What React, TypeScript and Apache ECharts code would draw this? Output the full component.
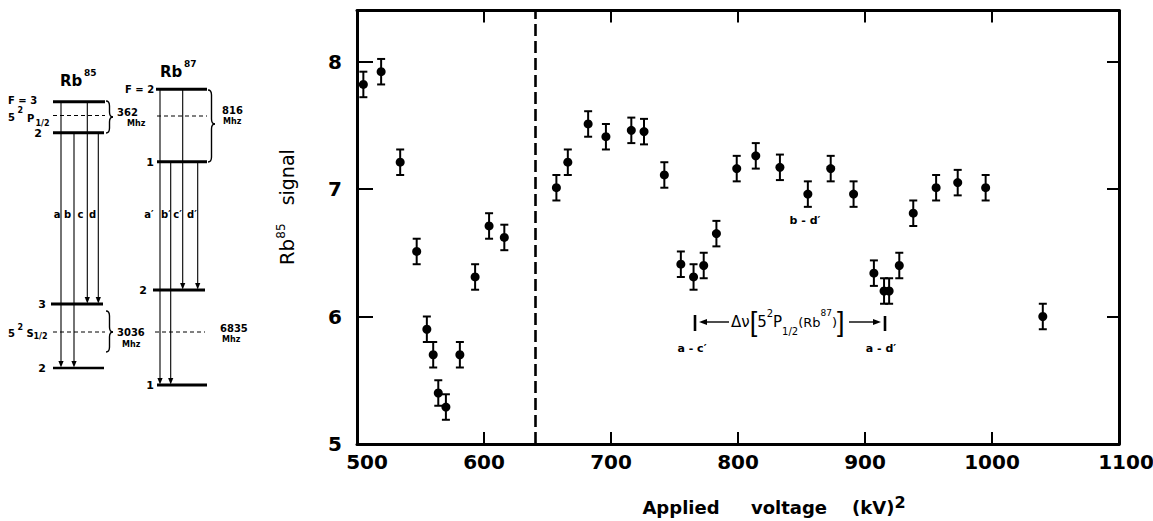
import React, { useEffect, useRef } from "react";
import * as echarts from "echarts";

// ---- data ----
const voltageSq = [505, 519, 534, 547, 555, 560, 564, 570, 581, 593, 604, 616, 657, 666, 682, 696, 716, 726, 742, 755, 765, 773, 783, 799, 814, 833, 855, 873, 891, 907, 915, 919, 927, 938, 956, 973, 995, 1040];
const signal = [7.82, 7.92, 7.21, 6.51, 5.9, 5.7, 5.4, 5.29, 5.7, 6.31, 6.71, 6.62, 7.01, 7.21, 7.51, 7.41, 7.46, 7.45, 7.11, 6.41, 6.31, 6.4, 6.65, 7.16, 7.26, 7.17, 6.96, 7.16, 6.96, 6.34, 6.2, 6.2, 6.4, 6.81, 7.01, 7.05, 7.01, 6.0];
const errorBar = [0.1, 0.1, 0.1, 0.1, 0.1, 0.1, 0.1, 0.1, 0.1, 0.1, 0.1, 0.1, 0.1, 0.1, 0.1, 0.1, 0.1, 0.1, 0.1, 0.1, 0.1, 0.1, 0.1, 0.1, 0.1, 0.1, 0.1, 0.1, 0.1, 0.1, 0.1, 0.1, 0.1, 0.1, 0.1, 0.1, 0.1, 0.1];
const xTickValues = [600, 700, 800, 900, 1000];
const xLabelValues = [500, 600, 700, 800, 900, 1000, 1100];
const yTickValues = [6, 7, 8];
const yLabelValues = [5, 6, 7, 8];
const dividerX = 640;

const FONT = "DejaVu Sans";
const INK = "#000";

type El = any;

const ln = (x1: number, y1: number, x2: number, y2: number, w = 1, dash?: number[]): El => ({
  type: "line",
  silent: true,
  shape: { x1, y1, x2, y2 },
  style: { stroke: INK, lineWidth: w, lineDash: dash },
});

const bz = (x1: number, y1: number, x2: number, y2: number, cpx1: number, cpy1: number, w = 1.4): El => ({
  type: "bezierCurve",
  silent: true,
  shape: { x1, y1, x2, y2, cpx1, cpy1 },
  style: { stroke: INK, fill: null, lineWidth: w },
});

const arrowDown = (x: number, y: number): El => ({
  type: "polygon",
  silent: true,
  shape: { points: [[x - 2.6, y - 7], [x + 2.6, y - 7], [x, y - 0.5]] },
  style: { fill: INK },
});

const txt = (x: number, y: number, text: string, size = 10, weight: any = "bold", align = "center"): El => ({
  type: "text",
  silent: true,
  x,
  y,
  style: { text, fill: INK, fontSize: size, fontWeight: weight, fontFamily: FONT, align, verticalAlign: "middle" },
});

const brace = (x: number, y1: number, y2: number, ym: number, w: number): El[] => {
  const r = Math.min(5, (ym - y1) / 3, (y2 - ym) / 3);
  const mx = x + w * 0.5;
  return [
    bz(x, y1, mx, y1 + r, mx, y1),
    ln(mx, y1 + r, mx, ym - r, 1.4),
    bz(mx, ym - r, x + w, ym, mx, ym),
    bz(x + w, ym, mx, ym + r, mx, ym),
    ln(mx, ym + r, mx, y2 - r, 1.4),
    bz(mx, y2 - r, x, y2, mx, y2),
  ];
};

const transition = (x: number, yStart: number, yEnd: number): El[] => [
  ln(x, yStart, x, yEnd - 6, 1.1),
  arrowDown(x, yEnd),
];

function buildDiagram(): El[] {
  const els: El[] = [];
  const dash = [4, 3];
  // ---- Rb85 ----
  els.push(txt(60, 81, "Rb", 15, "bold", "left"));
  els.push(txt(84, 73, "85", 9, "bold", "left"));
  els.push(ln(53, 101.7, 105, 101.7, 3));
  els.push(ln(53, 115.5, 105, 115.5, 1, dash));
  els.push(ln(53, 132.7, 104, 132.7, 3));
  els.push(ln(51, 304, 103, 304, 3));
  els.push(ln(53, 332, 105, 332, 1, dash));
  els.push(ln(53, 368, 104, 368, 2.6));
  els.push(...transition(61, 101.7, 368));
  els.push(...transition(74, 132.7, 368));
  els.push(...transition(87.3, 101.7, 304));
  els.push(...transition(98.3, 132.7, 304));
  els.push(txt(57, 214, "a"), txt(67.5, 214, "b"), txt(80.5, 214, "c"), txt(92.5, 214, "d"));
  els.push(txt(8, 100, "F = 3", 10, "bold", "left"));
  els.push(txt(8, 117, "5", 10, "bold", "left"));
  els.push(txt(17.5, 110.5, "2", 8, "bold", "left"));
  els.push(txt(27, 118, "P", 10, "bold", "left"));
  els.push(txt(35.5, 123, "1/2", 8, "bold", "left"));
  els.push(txt(38, 133, "2", 11));
  els.push(txt(42, 304, "3", 11));
  els.push(txt(8, 333, "5", 10, "bold", "left"));
  els.push(txt(17.5, 327.5, "2", 8, "bold", "left"));
  els.push(txt(26.5, 333, "S", 10, "bold", "left"));
  els.push(txt(33.5, 336, "1/2", 8, "bold", "left"));
  els.push(txt(42, 368, "2", 11));
  els.push(...brace(106, 101, 133, 117, 7));
  els.push(txt(117, 112.5, "362", 10, "bold", "left"));
  els.push(txt(127, 123, "Mhz", 8, "bold", "left"));
  els.push(...brace(106, 311, 352, 332, 7));
  els.push(txt(117, 332, "3036", 10, "bold", "left"));
  els.push(txt(122, 344, "Mhz", 8, "bold", "left"));

  // ---- Rb87 ----
  els.push(txt(160, 72, "Rb", 15, "bold", "left"));
  els.push(txt(184, 64, "87", 9, "bold", "left"));
  els.push(ln(156, 89.3, 207, 89.3, 3));
  els.push(ln(157, 116, 207, 116, 1, dash));
  els.push(ln(157, 161.7, 207, 161.7, 3));
  els.push(ln(153, 290, 205, 290, 3));
  els.push(ln(155, 332, 205, 332, 1, dash));
  els.push(ln(157, 385, 207, 385, 3));
  els.push(...transition(160, 89.3, 385));
  els.push(...transition(170.7, 161.7, 385));
  els.push(...transition(182.7, 89.3, 290));
  els.push(...transition(197.7, 161.7, 290));
  els.push(txt(149, 214, "a′"), txt(166, 214, "b′"), txt(177.5, 214, "c′"), txt(192, 214, "d′"));
  els.push(txt(125, 89, "F = 2", 10, "bold", "left"));
  els.push(txt(150, 162, "1", 11));
  els.push(txt(143, 290, "2", 11));
  els.push(txt(150, 385, "1", 11));
  els.push(...brace(208, 90, 162, 124, 7));
  els.push(txt(222, 110, "816", 10, "bold", "left"));
  els.push(txt(223, 121, "Mhz", 8, "bold", "left"));
  els.push(txt(220, 328, "6835", 10, "bold", "left"));
  els.push(txt(222, 339, "Mhz", 8, "bold", "left"));
  return els;
}

function buildAnnotations(): El[] {
  const els: El[] = [];
  els.push(txt(805, 220, "b - d′", 11));
  els.push(txt(692, 348, "a - c′", 11));
  els.push(txt(881, 348, "a - d′", 11));
  els.push(ln(695, 315, 695, 331, 2.6));
  els.push(ln(885, 316, 885, 331, 2.6));
  els.push(ln(704, 322, 729, 322, 1.4));
  els.push({ type: "polygon", silent: true, shape: { points: [[699, 322], [707, 319], [707, 325]] }, style: { fill: INK } });
  els.push(ln(849, 322, 876, 322, 1.4));
  els.push({ type: "polygon", silent: true, shape: { points: [[881, 322], [873, 319], [873, 325]] }, style: { fill: INK } });
  els.push({
    type: "text",
    silent: true,
    x: 731,
    y: 322,
    style: {
      text: "{m|Δν}{br|[}{m|5}{sp|2}{m|P}{sb|1/2}{r|(Rb}{sp2|87}{r|)}{br|]}",
      fill: INK,
      fontFamily: FONT,
      align: "left",
      verticalAlign: "middle",
      rich: {
        m: { fontSize: 15, fontFamily: FONT, fill: INK, lineHeight: 28, verticalAlign: "middle" },
        r: { fontSize: 13, fontFamily: FONT, fill: INK, lineHeight: 28, verticalAlign: "middle" },
        br: { fontSize: 27, fontFamily: "Liberation Sans", fill: INK, lineHeight: 28, verticalAlign: "middle" },
        sp: { fontSize: 10, fontFamily: FONT, fill: INK, lineHeight: 22, verticalAlign: "top" },
        sp2: { fontSize: 9, fontFamily: FONT, fill: INK, lineHeight: 22, verticalAlign: "top" },
        sb: { fontSize: 10, fontFamily: FONT, fill: INK, lineHeight: 16, verticalAlign: "bottom" },
      },
    },
  });
  return els;
}

export default function App() {
  const ref = useRef<HTMLDivElement>(null);

  useEffect(() => {
    if (!ref.current) return;
    const chart = echarts.init(ref.current, null, { renderer: "svg" });
    const errData = voltageSq.map((v, i) => [v, signal[i], errorBar[i]]);
    const ptData = voltageSq.map((v, i) => [v, signal[i]]);

    const axisLine = { show: true, lineStyle: { color: INK, width: 3 } };
    const labelStyle = { color: INK, fontSize: 20, fontWeight: "bold", fontFamily: FONT };
    const xLabelRich = {
      n: { ...labelStyle },
      first: { ...labelStyle, padding: [0, 0, 0, 20] },
      last: { ...labelStyle, padding: [0, 0, 0, 14] },
    };

    chart.setOption({
      animation: false,
      backgroundColor: "#fff",
      grid: { left: 357, right: 34, top: 10.5, bottom: 77, containLabel: false, outerBoundsMode: "none" },
      xAxis: [
        {
          type: "value",
          position: "bottom",
          min: 500,
          max: 1100,
          interval: 100,
          axisLine,
          axisTick: { show: true, inside: true, length: 12, lineStyle: { color: INK, width: 2 }, customValues: xTickValues },
          axisLabel: {
            ...labelStyle,
            margin: 8,
            customValues: xLabelValues,
            rich: xLabelRich,
            formatter: (v: number) => {
              const s = String(Math.round(v));
              if (v === xLabelValues[0]) return `{first|${s}}`;
              if (v === xLabelValues[xLabelValues.length - 1]) return `{last|${s}}`;
              return `{n|${s}}`;
            },
          },
          splitLine: { show: false },
          name: "{t|Applied     voltage    (kV)}{s|2}",
          nameLocation: "middle",
          nameGap: 50,
          nameTextStyle: {
            padding: [0, 0, 0, 72],
            rich: {
              t: { fontSize: 18, fontWeight: "bold", fontFamily: FONT, color: INK, lineHeight: 26, verticalAlign: "middle" },
              s: { fontSize: 16, fontWeight: "bold", fontFamily: FONT, color: INK, lineHeight: 14, verticalAlign: "top" },
            },
          },
        },
        {
          type: "value",
          position: "top",
          min: 500,
          max: 1100,
          interval: 100,
          axisLine,
          axisTick: { show: true, inside: true, length: 12, lineStyle: { color: INK, width: 2 }, customValues: xTickValues },
          axisLabel: { show: false },
          splitLine: { show: false },
        },
      ],
      yAxis: [
        {
          type: "value",
          position: "left",
          min: 5,
          max: 8.4,
          interval: 1,
          axisLine,
          axisTick: { show: true, inside: true, length: 16, lineStyle: { color: INK, width: 2 }, customValues: yTickValues },
          axisLabel: { ...labelStyle, margin: 15, customValues: yLabelValues, formatter: (v: number) => String(v) },
          splitLine: { show: false },
          name: "{r|Rb}{s|85}{g|   signal}",
          nameLocation: "middle",
          nameRotate: 90,
          nameGap: 58,
          nameTextStyle: {
            padding: [0, 0, 0, 40],
            rich: {
              r: { fontSize: 20, fontFamily: FONT, color: INK, lineHeight: 24, verticalAlign: "middle" },
              s: { fontSize: 12, fontFamily: FONT, color: INK, lineHeight: 14, verticalAlign: "top" },
              g: { fontSize: 19, fontFamily: FONT, color: INK, lineHeight: 24, verticalAlign: "middle" },
            },
          },
        },
        {
          type: "value",
          position: "right",
          min: 5,
          max: 8.4,
          interval: 1,
          axisLine,
          axisTick: { show: true, inside: true, length: 12, lineStyle: { color: INK, width: 2 }, customValues: yTickValues },
          axisLabel: { show: false },
          splitLine: { show: false },
        },
      ],
      series: [
        {
          type: "custom",
          xAxisIndex: 0,
          yAxisIndex: 0,
          encode: { x: 0, y: 1 },
          data: errData,
          silent: true,
          z: 3,
          renderItem: (params: any, api: any) => {
            const x = api.value(0);
            const y = api.value(1);
            const e = api.value(2);
            const p1 = api.coord([x, y + e]);
            const p2 = api.coord([x, y - e]);
            const c = 4;
            const st = { stroke: INK, lineWidth: 2 };
            return {
              type: "group",
              children: [
                { type: "line", shape: { x1: p1[0], y1: p1[1], x2: p2[0], y2: p2[1] }, style: st },
                { type: "line", shape: { x1: p1[0] - c, y1: p1[1], x2: p1[0] + c, y2: p1[1] }, style: st },
                { type: "line", shape: { x1: p2[0] - c, y1: p2[1], x2: p2[0] + c, y2: p2[1] }, style: st },
              ],
            };
          },
        },
        {
          type: "scatter",
          xAxisIndex: 0,
          yAxisIndex: 0,
          data: ptData,
          symbol: "circle",
          symbolSize: 9,
          itemStyle: { color: INK, opacity: 1 },
          silent: true,
          z: 4,
          markLine: {
            silent: true,
            symbol: ["none", "none"],
            label: { show: false },
            lineStyle: { color: INK, width: 2.6, type: [12, 5] },
            data: [{ xAxis: dividerX }],
          },
        },
      ],
      graphic: [...buildDiagram(), ...buildAnnotations()],
    });

    return () => chart.dispose();
  }, []);

  return (
    <div
      ref={ref}
      style={{ position: "fixed", left: 0, top: 0, width: 1153, height: 521, background: "#fff" }}
    />
  );
}
